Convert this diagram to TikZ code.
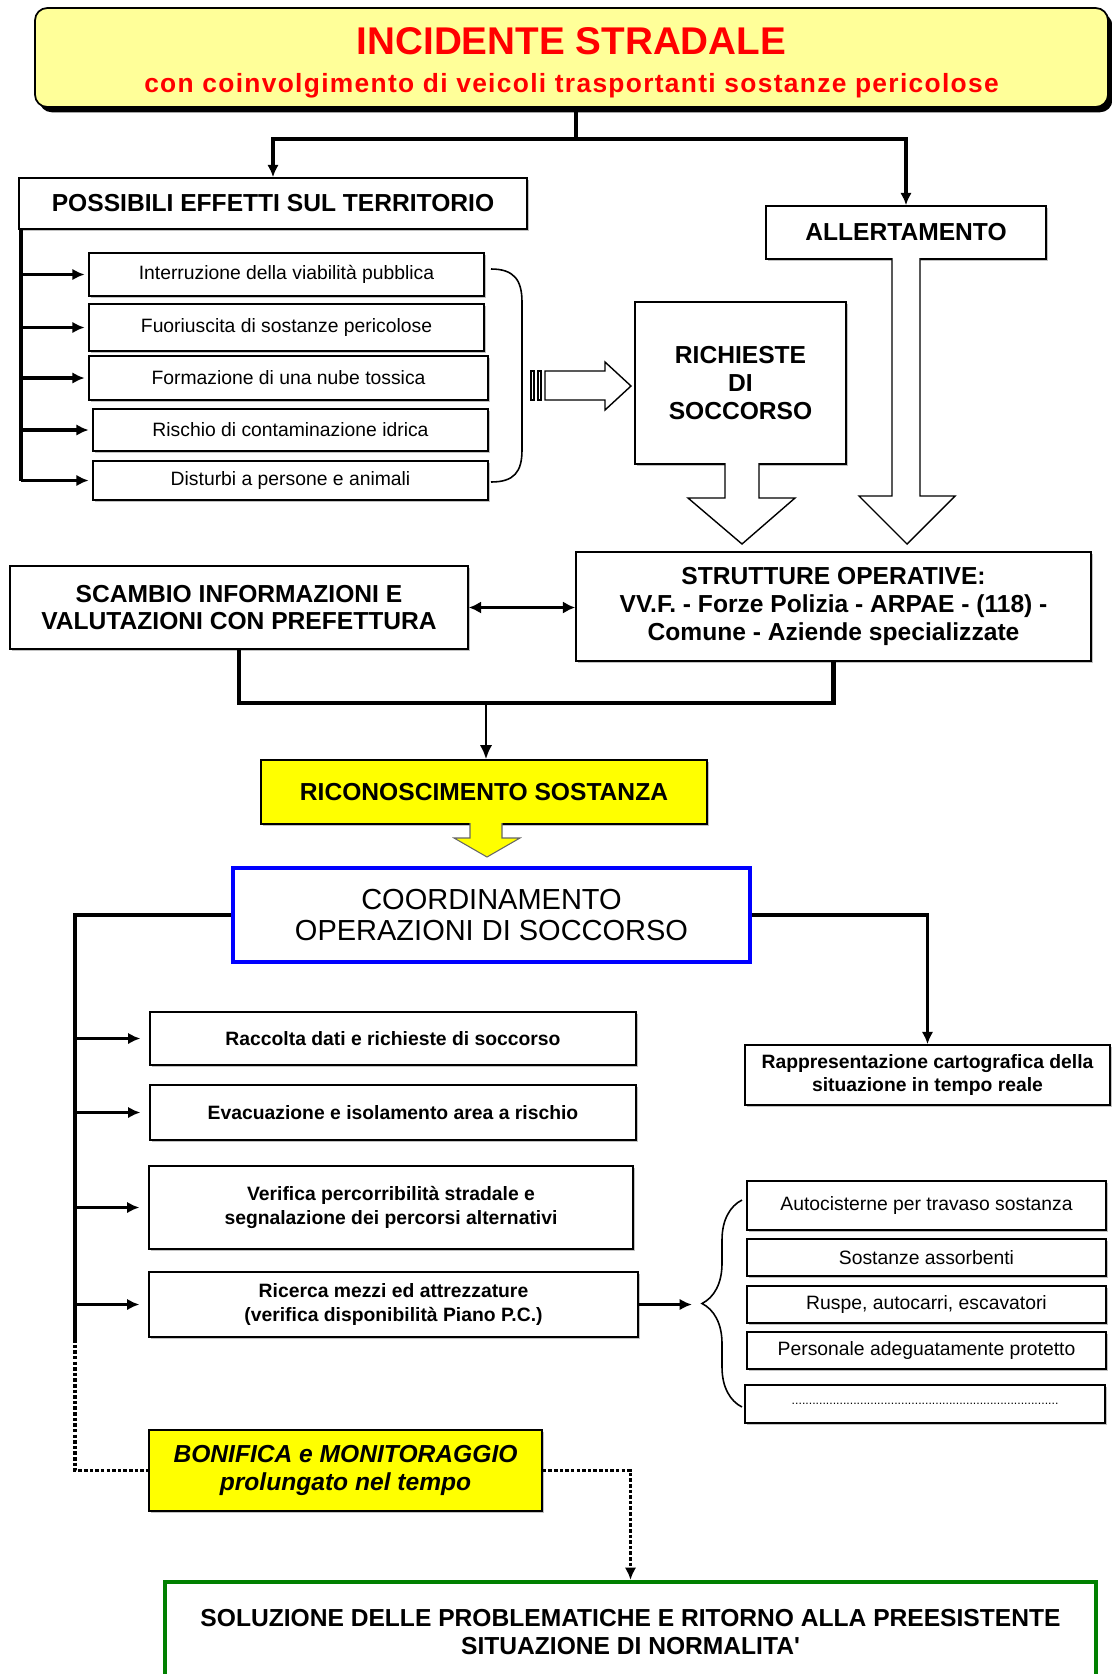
\documentclass[tikz,border=0pt]{standalone}
\usepackage{fontspec}
\setmainfont{Liberation Sans}
\newfontfamily\spaced{Liberation Sans}[LetterSpace=5]
\usetikzlibrary{arrows.meta,shadows,decorations.pathreplacing}

\definecolor{titlefill}{HTML}{FFFF99}
\definecolor{boxyellow}{HTML}{FFFF00}
\definecolor{coordblue}{HTML}{0000FF}
\definecolor{solgreen}{HTML}{008000}

\newcommand{\fTitle}{\fontsize{22pt}{26pt}\selectfont\bfseries}
\newcommand{\fSub}{\fontsize{15pt}{18pt}\selectfont\spaced\bfseries}
\newcommand{\fBox}{\fontsize{14pt}{15.8pt}\selectfont\bfseries}
\newcommand{\fEff}{\fontsize{11pt}{13.4pt}\selectfont}
\newcommand{\fListB}{\fontsize{11pt}{13.4pt}\selectfont\bfseries}
\newcommand{\fCoord}{\fontsize{16.5pt}{17.6pt}\selectfont}
\newcommand{\fBonif}{\fontsize{14pt}{15.8pt}\selectfont\bfseries\itshape}

\tikzset{
  box/.style={draw, fill=white, line width=0.9pt, align=center, inner sep=1pt,
    drop shadow={shadow xshift=1.2pt, shadow yshift=-1.2pt, fill=black!40, opacity=0.6}},
  boxdim/.style 2 args={minimum width=#1*0.02cm, minimum height=#2*0.02cm},
  spine/.style={line width=2pt},
  arr/.style={line width=1.8pt, -{Latex[length=7pt,width=6.5pt]}},
  dotline/.style={line width=1.8pt, dash pattern=on 2pt off 1.2pt},
  hollow/.style={draw, fill=white, line width=0.8pt, line join=miter},
}

\begin{document}
\begin{tikzpicture}[x=0.02cm, y=-0.02cm]
\useasboundingbox (0,0) rectangle (1112,1674);

% Titolo
\node[draw, line width=1pt, fill=titlefill, rounded corners=7pt, boxdim={1073}{99}, align=center,
  drop shadow={shadow xshift=2.5pt, shadow yshift=-3pt, fill=black, opacity=1}] (titolo) at (571.5,57.5)
  {{\fTitle\color{red}\rule{0pt}{21.3pt}INCIDENTE STRADALE}\\[9.5pt]
   {\fSub\color{red}con coinvolgimento di veicoli trasportanti sostanze pericolose}};

% Primo livello
\node[box, boxdim={508}{51}, font=\fBox] (possibili) at (273,203.5) {POSSIBILI EFFETTI SUL TERRITORIO};
\node[box, boxdim={280}{53}, font=\fBox] (allert) at (906,232.5) {ALLERTAMENTO};

\coordinate (bivio) at (576,139);
\draw[spine] (titolo.south -| bivio) -- (bivio);
\draw[arr] (bivio) -| (possibili.north);
\draw[arr] (bivio) -| (allert.north);

% Effetti sul territorio
\node[box, boxdim={395}{43}, font=\fEff] (eff1) at (286.5,274.5) {Interruzione della viabilità pubblica};
\node[box, boxdim={395}{47}, font=\fEff] (eff2) at (286.5,327.5) {Fuoriuscita di sostanze pericolose};
\node[box, boxdim={399}{44}, font=\fEff] (eff3) at (288.5,378) {Formazione di una nube tossica};
\node[box, boxdim={395}{42}, font=\fEff] (eff4) at (290.5,430) {Rischio di contaminazione idrica};
\node[box, boxdim={395}{39}, font=\fEff] (eff5) at (290.5,480.5) {Disturbi a persone e animali};

\coordinate (spineE) at (21,229);
\draw[spine] (spineE) -- (spineE |- eff5.west);
\draw[arr, shorten >=2pt] (spineE |- eff1.west) -- (eff1.west);
\draw[arr, shorten >=2pt] (spineE |- eff2.west) -- (eff2.west);
\draw[arr, shorten >=2pt] (spineE |- eff3.west) -- (eff3.west);
\draw[arr, shorten >=2pt] (spineE |- eff4.west) -- (eff4.west);
\draw[arr, shorten >=2pt] (spineE |- eff5.west) -- (eff5.west);

% graffa chiusa
\draw[line width=0.9pt] (491,269) .. controls (514,269) and (522,280) .. (522,302) -- (522,450)
  .. controls (522,472) and (514,482) .. (491,482);

% Richieste di soccorso
\node[box, boxdim={211}{162}, font=\fBox] (richieste) at (740.5,383) {RICHIESTE\\DI\\SOCCORSO};

\draw[hollow] (545,371) -- (605,371) -- (605,362) -- (631,386) -- (605,410) -- (605,400) -- (545,400) -- cycle;
\draw[line width=0.8pt] (531,371) rectangle (534,400);
\draw[line width=0.8pt] (538,371) rectangle (541,400);

% frecce larghe verso le strutture
\draw[hollow] (725,463) -- (725,498) -- (688,498) -- (742,544) -- (795,498) -- (759,498) -- (759,463);
\draw[hollow] (892,258) -- (892,496) -- (859,496) -- (907,544) -- (955,496) -- (920,496) -- (920,258);

% Strutture e prefettura
\node[box, boxdim={515}{109}, font=\fBox] (strutture) at (833.5,606.5)
  {STRUTTURE OPERATIVE:\\VV.F. - Forze Polizia - ARPAE - (118) -\\Comune - Aziende specializzate};
\node[box, boxdim={458}{83}, font=\fBox] (scambio) at (239,607.5)
  {SCAMBIO INFORMAZIONI E\\VALUTAZIONI CON PREFETTURA};

\draw[line width=2.2pt, {Latex[length=7pt,width=7pt]}-{Latex[length=7pt,width=7pt]}]
  (scambio.east) -- (strutture.west |- scambio.east);

% Riconoscimento
\node[box, fill=boxyellow, boxdim={446}{64}, font=\fBox] (ricon) at (484,792) {RICONOSCIMENTO SOSTANZA};

\coordinate (nodoA) at (486,703);
\draw[line width=2.4pt] (scambio.south) |- (strutture.south |- nodoA) -- (strutture.south);
\draw[line width=1.3pt, -{Latex[length=8pt,width=7pt]}] (nodoA) -- (nodoA |- ricon.north);

\draw[line width=0.6pt, fill=boxyellow, draw=black!60] (470,823) -- (470,838) -- (454,838) -- (487,857)
  -- (520,838) -- (502,838) -- (502,823);

% Coordinamento
\node[box, draw=coordblue, line width=2.4pt, boxdim={517}{94}, font=\fCoord] (coord) at (491.5,915)
  {COORDINAMENTO\\OPERAZIONI DI SOCCORSO};

\node[box, boxdim={486}{53}, font=\fListB] (racc) at (393,1038.5) {Raccolta dati e richieste di soccorso};
\node[box, boxdim={486}{55}, font=\fListB] (evac) at (393,1112.5) {Evacuazione e isolamento area a rischio};
\node[box, boxdim={484}{83}, font=\fListB] (verif) at (391,1207.5)
  {Verifica percorribilità stradale e\\segnalazione dei percorsi alternativi};
\node[box, boxdim={489}{65}, font=\fListB] (ricerca) at (393.5,1304.5)
  {Ricerca mezzi ed attrezzature\\(verifica disponibilità Piano P.C.)};
\node[box, boxdim={365}{60}, font=\fListB] (rappr) at (927.5,1075)
  {Rappresentazione cartografica della\\situazione in tempo reale};

\coordinate (spineC) at (75,915);
\coordinate (fineC) at (75,1339);
\draw[spine] (coord.west) -- (spineC) -- (fineC);
\draw[arr, shorten >=5pt] (spineC |- racc.west) -- (racc.west);
\draw[arr, shorten >=5pt] (spineC |- evac.west) -- (evac.west);
\draw[arr, shorten >=5pt] (spineC |- verif.west) -- (verif.west);
\draw[arr, shorten >=5pt] (spineC |- ricerca.west) -- (ricerca.west);
\draw[arr] (coord.east) -| (rappr.north);

% Mezzi e attrezzature
\node[box, boxdim={359}{49}, font=\fEff] (mezzo1) at (926.5,1205.5) {Autocisterne per travaso sostanza};
\node[box, boxdim={359}{37}, font=\fEff] (mezzo2) at (926.5,1257.5) {Sostanze assorbenti};
\node[box, boxdim={359}{37}, font=\fEff] (mezzo3) at (926.5,1304.5) {Ruspe, autocarri, escavatori};
\node[box, boxdim={359}{37}, font=\fEff] (mezzo4) at (926.5,1350.5) {Personale adeguatamente protetto};
\node[box, boxdim={360}{38}, font=\fEff] (mezzo5) at (925,1404)
  {\fontsize{7pt}{8pt}\selectfont ..............................................................................};

\draw[line width=0.9pt, decorate, decoration={brace, amplitude=0.8cm}] (742,1407) -- (742,1200);
\coordinate (puntaGraffa) at (699,1304.5);
\draw[arr, shorten >=4pt] (ricerca.east) -- (puntaGraffa);

% Bonifica e conclusione
\node[box, fill=boxyellow, boxdim={393}{81}, font=\fBonif] (bonifica) at (345.5,1470.5)
  {BONIFICA e MONITORAGGIO\\prolungato nel tempo};
\node[box, draw=solgreen, line width=2.4pt, boxdim={931}{100}, font=\fBox] (soluz) at (630.5,1632)
  {SOLUZIONE DELLE PROBLEMATICHE E RITORNO ALLA PREESISTENTE\\SITUAZIONE DI NORMALITA\textquotesingle};

\draw[dotline] (fineC) |- (bonifica.west);
\draw[dotline, -{Latex[length=7pt,width=6.5pt]}] (bonifica.east) -| (soluz.north);

\end{tikzpicture}
\end{document}
